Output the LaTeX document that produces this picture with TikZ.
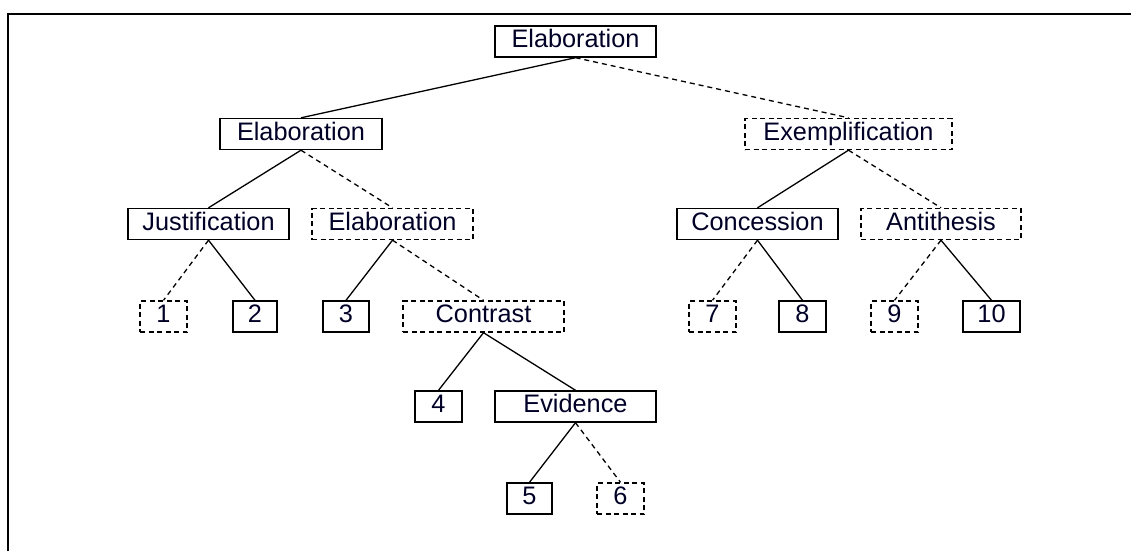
\documentclass[tikz,border=0pt]{standalone}
\usepackage{fontspec}
\setmainfont{Liberation Sans}
\begin{document}
\begin{tikzpicture}[x=1pt,y=-1pt,
  box/.style={draw, line width=1.4pt, minimum height=31pt, inner sep=0pt,
    text height=21.5pt, text depth=9.5pt,
    font=\fontsize{25.3}{26}\selectfont, text=black!85!blue},
  dbox/.style={box, dash pattern=on 5pt off 3.5pt},
  sline/.style={line width=1.3pt},
  dline/.style={line width=1.3pt, dash pattern=on 5pt off 4pt}]
\useasboundingbox (0,0) rectangle (1131,551);
\draw[line width=1.4pt] (8,551) -- (8,14) -- (1131,14);
% nodes
\node[box, minimum width=161pt] (root) at (575.5,41.5) {Elaboration};
\node[box, minimum width=162pt] (elab1) at (301,134) {Elaboration};
\node[dbox, minimum width=207pt] (exem) at (848.5,134) {Exemplification};
\node[box, minimum width=161pt] (just) at (208.5,224) {Justification};
\node[dbox, minimum width=161pt] (elab2) at (392.5,224) {Elaboration};
\node[box, minimum width=161pt] (conc) at (757.5,224) {Concession};
\node[dbox, minimum width=160pt] (anti) at (941,224) {Antithesis};
\node[dbox, minimum width=47pt] (n1) at (163.5,316.5) {1};
\node[box, minimum width=44pt] (n2) at (255,316.5) {2};
\node[box, minimum width=46pt] (n3) at (346,316.5) {3};
\node[dbox, minimum width=161pt] (contr) at (483.5,316.5) {Contrast};
\node[dbox, minimum width=47pt] (n7) at (712.5,316.5) {7};
\node[box, minimum width=47pt] (n8) at (802.5,316.5) {8};
\node[dbox, minimum width=47pt] (n9) at (894.5,316.5) {9};
\node[box, minimum width=57pt] (n10) at (991.5,316.5) {10};
\node[box, minimum width=47pt] (n4) at (438.5,406.5) {4};
\node[box, minimum width=161pt] (evid) at (575.5,406.5) {Evidence};
\node[box, minimum width=45pt] (n5) at (529.5,498.5) {5};
\node[dbox, minimum width=47pt] (n6) at (620.5,498.5) {6};
% edges
\draw[sline] (root.south) -- (elab1.north);
\draw[dline] (root.south) -- (exem.north);
\draw[sline] (elab1.south) -- (just.north);
\draw[dline] (elab1.south) -- (elab2.north);
\draw[dline] (just.south) -- (n1.north);
\draw[sline] (just.south) -- (n2.north);
\draw[sline] (elab2.south) -- (n3.north);
\draw[dline] (elab2.south) -- (contr.north);
\draw[sline] (contr.south) -- (n4.north);
\draw[sline] (contr.south) -- (evid.north);
\draw[sline] (evid.south) -- (n5.north);
\draw[dline] (evid.south) -- (n6.north);
\draw[sline] (exem.south) -- (conc.north);
\draw[dline] (exem.south) -- (anti.north);
\draw[dline] (conc.south) -- (n7.north);
\draw[sline] (conc.south) -- (n8.north);
\draw[dline] (anti.south) -- (n9.north);
\draw[sline] (anti.south) -- (n10.north);
\end{tikzpicture}
\end{document}
